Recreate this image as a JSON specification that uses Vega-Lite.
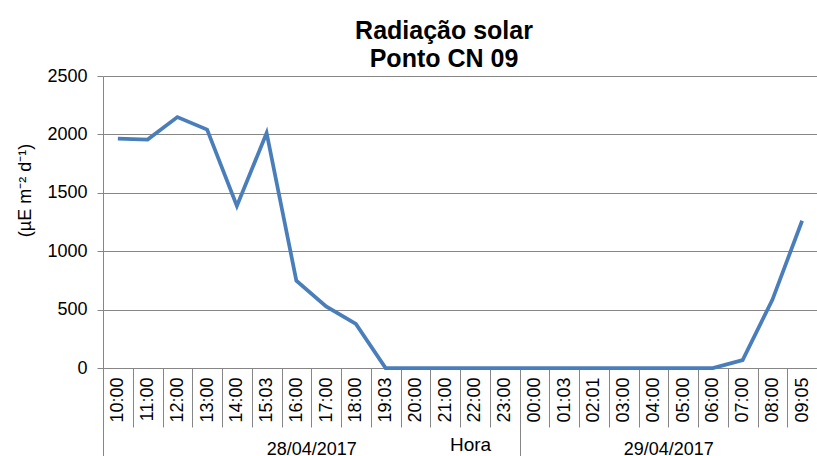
{
  "$schema": "https://vega.github.io/schema/vega-lite/v6.json",
  "width": 714,
  "height": 292,
  "autosize": {"type": "none"},
  "padding": {"left": 103, "top": 76, "right": 0, "bottom": 88},
  "background": "white",
  "title": {
    "text": ["Radiação solar", "Ponto CN 09"],
    "fontSize": 25,
    "fontWeight": "bold",
    "font": "Liberation Sans",
    "color": "#000000",
    "lineHeight": 28,
    "anchor": "middle",
    "frame": "group",
    "dx": -16,
    "offset": -5
  },
  "data": {
    "values": [
      {"hora": "10:00", "data": "28/04/2017", "rad": 1964},
      {"hora": "11:00", "data": "28/04/2017", "rad": 1956},
      {"hora": "12:00", "data": "28/04/2017", "rad": 2148},
      {"hora": "13:00", "data": "28/04/2017", "rad": 2041},
      {"hora": "14:00", "data": "28/04/2017", "rad": 1387},
      {"hora": "15:03", "data": "28/04/2017", "rad": 2012},
      {"hora": "16:00", "data": "28/04/2017", "rad": 747},
      {"hora": "17:00", "data": "28/04/2017", "rad": 527},
      {"hora": "18:00", "data": "28/04/2017", "rad": 377},
      {"hora": "19:03", "data": "28/04/2017", "rad": 0},
      {"hora": "20:00", "data": "28/04/2017", "rad": 0},
      {"hora": "21:00", "data": "28/04/2017", "rad": 0},
      {"hora": "22:00", "data": "28/04/2017", "rad": 0},
      {"hora": "23:00", "data": "28/04/2017", "rad": 0},
      {"hora": "00:00", "data": "29/04/2017", "rad": 0},
      {"hora": "01:03", "data": "29/04/2017", "rad": 0},
      {"hora": "02:01", "data": "29/04/2017", "rad": 0},
      {"hora": "03:00", "data": "29/04/2017", "rad": 0},
      {"hora": "04:00", "data": "29/04/2017", "rad": 0},
      {"hora": "05:00", "data": "29/04/2017", "rad": 0},
      {"hora": "06:00", "data": "29/04/2017", "rad": 0},
      {"hora": "07:00", "data": "29/04/2017", "rad": 67},
      {"hora": "08:00", "data": "29/04/2017", "rad": 584},
      {"hora": "09:05", "data": "29/04/2017", "rad": 1261}
    ]
  },
  "resolve": {"axis": {"x": "independent"}},
  "layer": [
    {
      "mark": {"type": "line", "color": "#4A7EBB", "strokeWidth": 3.75},
      "encoding": {
        "x": {
          "field": "hora", "type": "ordinal", "sort": null,
          "scale": {"type": "point", "padding": 0.5},
          "axis": {
            "orient": "bottom",
            "title": null, "labelAngle": -90, "labelAlign": "right", "labelBaseline": "middle",
            "labelPadding": 9, "ticks": false, "domain": true, "domainColor": "#868686",
            "grid": false, "labelOverlap": false
          }
        },
        "y": {
          "field": "rad", "type": "quantitative",
          "scale": {"domain": [0, 2500], "nice": false},
          "axis": {
            "values": [0, 500, 1000, 1500, 2000, 2500], "format": "d",
            "grid": true, "gridColor": "#868686", "domainColor": "#868686",
            "tickColor": "#868686", "tickSize": 6, "labelPadding": 10,
            "title": "(µE m⁻² d⁻¹)", "titleX": -78, "titleY": 114,
            "titleAngle": -90, "titleAlign": "center", "titleBaseline": "middle",
            "titleFontSize": 18
          }
        }
      }
    },
    {
      "mark": {"type": "point", "opacity": 0},
      "encoding": {
        "x": {
          "field": "hora", "type": "ordinal", "sort": null,
          "axis": {
            "orient": "bottom",
            "title": null, "labels": false, "domain": false, "grid": false,
            "ticks": true, "tickSize": 59, "tickColor": "#868686", "tickOffset": -14.875
          }
        }
      }
    },
    {
      "mark": {"type": "point", "opacity": 0},
      "encoding": {
        "x": {
          "field": "hora", "type": "ordinal", "sort": null,
          "axis": {
            "orient": "bottom",
            "title": null, "labels": false, "domain": false, "grid": false,
            "values": ["10:00", "00:00"],
            "ticks": true, "tickSize": 88, "tickColor": "#868686", "tickOffset": -14.875
          }
        }
      }
    },
    {
      "mark": {"type": "point", "opacity": 0},
      "encoding": {
        "x": {
          "field": "hora", "type": "ordinal", "sort": null,
          "axis": {
            "orient": "bottom",
            "values": ["17:00", "05:00"],
            "labelExpr": "datum.value == '17:00' ? '28/04/2017' : '29/04/2017'",
            "labelOffset": -14.875, "labelAngle": 0, "labelAlign": "center",
            "labelBaseline": "alphabetic", "labelPadding": 86,
            "ticks": false, "domain": false, "grid": false, "labelOverlap": false,
            "title": "Hora", "titleX": 367, "titleY": 82, "titleAngle": 0,
            "titleAlign": "center", "titleBaseline": "alphabetic", "titleFontSize": 19
          }
        }
      }
    }
  ],
  "config": {
    "font": "Liberation Sans",
    "view": {"stroke": null},
    "axis": {
      "labelColor": "#000000", "titleColor": "#000000",
      "labelFont": "Liberation Sans", "titleFont": "Liberation Sans",
      "labelFontSize": 18, "titleFontSize": 18, "titleFontWeight": "normal"
    }
  }
}
